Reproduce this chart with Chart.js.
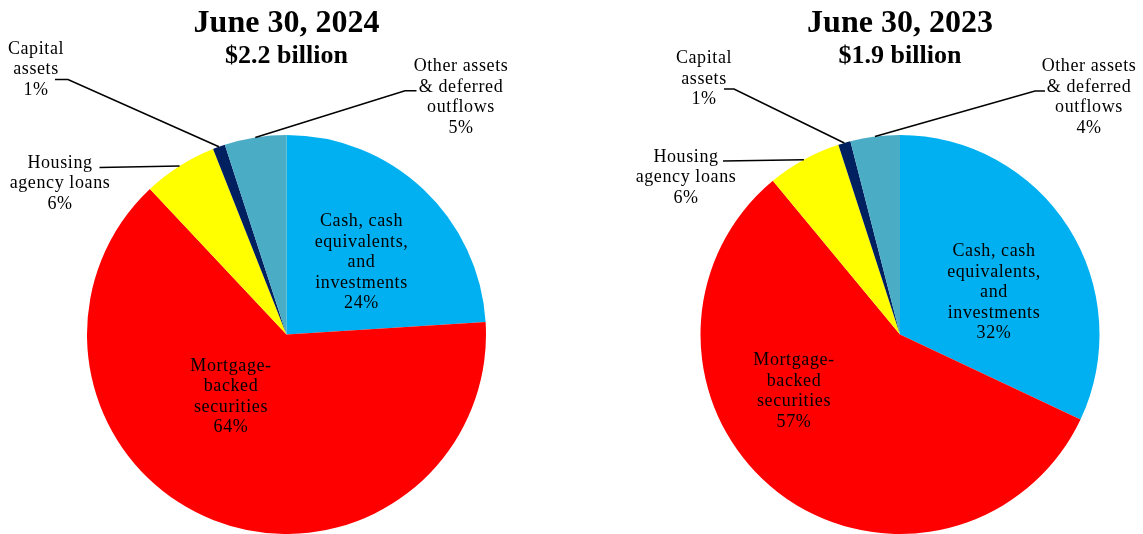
<!DOCTYPE html>
<html>
<head>
<meta charset="utf-8">
<title>Assets and deferred outflows</title>
<script src="https://cdn.jsdelivr.net/npm/chart.js@4.4.1/dist/chart.umd.min.js"></script>
<style>
  html, body { margin: 0; padding: 0; background: #ffffff; }
  #wrap { position: relative; width: 1143px; height: 534px; overflow: hidden; }
  canvas { position: absolute; top: 0; }
  #c2024 { left: 0; }
  #c2023 { left: 572px; }
</style>
</head>
<body>
<div id="wrap">
  <canvas id="c2024" width="572" height="534"></canvas>
  <canvas id="c2023" width="571" height="534"></canvas>
</div>
<script>
// Asset categories, in drawing order (clockwise from 12 o'clock)
const categories = [
  'Cash, cash equivalents, and investments',
  'Mortgage-backed securities',
  'Housing agency loans',
  'Capital assets',
  'Other assets & deferred outflows'
];
// Category names broken into the lines shown on the chart
const categoryLines = [
  ['Cash, cash', 'equivalents,', 'and', 'investments'],
  ['Mortgage-', 'backed', 'securities'],
  ['Housing', 'agency loans'],
  ['Capital', 'assets'],
  ['Other assets', '& deferred', 'outflows']
];
// Share of total, percent
const values2024 = [24, 64, 6, 1, 5];
const values2023 = [32, 57, 6, 1, 4];

const chartTitles = ['June 30, 2024', 'June 30, 2023'];
const chartTotals = ['$2.2 billion', '$1.9 billion'];

const sliceColors = ['#00B0F0', '#FF0000', '#FFFF00', '#002060', '#4BACC6'];

// Label placement relative to the pie centre (first text baseline),
// plus leader-line bend points for the outside labels.
const layout2024 = [
  { dx: 75,     dy: -108.5 },
  { dx: -55.5,  dy: 36 },
  { dx: -226.5, dy: -167,   leader: [[-187, -167]] },
  { dx: -250.5, dy: -281,   leader: [[-231.5, -255], [-218.5, -255]] },
  { dx: 174.5,  dy: -263.5, leader: [[130, -243.8], [118.5, -243.8]] }
];
const layout2023 = [
  { dx: 94,     dy: -78.5 },
  { dx: -106,   dy: 30.5 },
  { dx: -214,   dy: -173,   leader: [[-177, -173.5]] },
  { dx: -196,   dy: -271.5, leader: [[-176, -245.5], [-166, -245.5]] },
  { dx: 189,    dy: -263.5, leader: [[145, -243.5], [135, -243.5]] }
];

const SERIF = '"Liberation Serif", "Times New Roman", serif';
const LINE_H = 20.6;

// Draws the heading, slice labels and leader lines from the arc geometry
const pieLabels = {
  id: 'pieLabels',
  afterDatasetsDraw(chart, args, opts) {
    const ctx = chart.ctx;
    const meta = chart.getDatasetMeta(0);
    const data = chart.data.datasets[0].data;
    const first = meta.data[0].getProps(['x', 'y'], true);
    const cx = first.x, cy = first.y;

    ctx.save();
    ctx.fillStyle = '#000000';
    ctx.textAlign = 'center';
    ctx.textBaseline = 'alphabetic';

    // heading
    ctx.font = 'bold 32px ' + SERIF;
    ctx.fillText(opts.title, cx, 32);
    ctx.font = 'bold 26px ' + SERIF;
    ctx.fillText(opts.total, cx, 63);

    ctx.font = '18px ' + SERIF;
    if ('letterSpacing' in ctx) ctx.letterSpacing = '0.6px';
    meta.data.forEach((arc, i) => {
      const p = arc.getProps(['x', 'y', 'startAngle', 'endAngle', 'outerRadius'], true);
      const pos = opts.layout[i];
      const lines = categoryLines[i].concat([data[i] + '%']);
      const tx = cx + pos.dx;
      lines.forEach((ln, k) => {
        ctx.fillText(ln, tx, cy + pos.dy + k * LINE_H);
      });
      if (pos.leader) {
        const mid = (p.startAngle + p.endAngle) / 2;
        const ex = p.x + Math.cos(mid) * p.outerRadius;
        const ey = p.y + Math.sin(mid) * p.outerRadius;
        ctx.beginPath();
        ctx.strokeStyle = '#000000';
        ctx.lineWidth = 1.6;
        pos.leader.forEach((pt, k) => {
          if (k === 0) ctx.moveTo(cx + pt[0], cy + pt[1]);
          else ctx.lineTo(cx + pt[0], cy + pt[1]);
        });
        ctx.lineTo(ex, ey);
        ctx.stroke();
      }
    });
    ctx.restore();
  }
};

function makePie(canvasId, values, title, total, layout, padding) {
  return new Chart(document.getElementById(canvasId), {
    type: 'pie',
    data: {
      labels: categories,
      datasets: [{
        data: values,
        backgroundColor: sliceColors,
        borderWidth: 0
      }]
    },
    options: {
      responsive: false,
      animation: false,
      layout: { padding: padding },
      plugins: {
        legend: { display: false },
        tooltip: { enabled: false },
        pieLabels: { title: title, total: total, layout: layout }
      }
    },
    plugins: [pieLabels]
  });
}

makePie('c2024', values2024, chartTitles[0], chartTotals[0], layout2024,
  { top: 135, bottom: 0, left: 87, right: 86 });
makePie('c2023', values2023, chartTitles[1], chartTotals[1], layout2023,
  { top: 135, bottom: 0, left: 128.5, right: 43.5 });
</script>
</body>
</html>
